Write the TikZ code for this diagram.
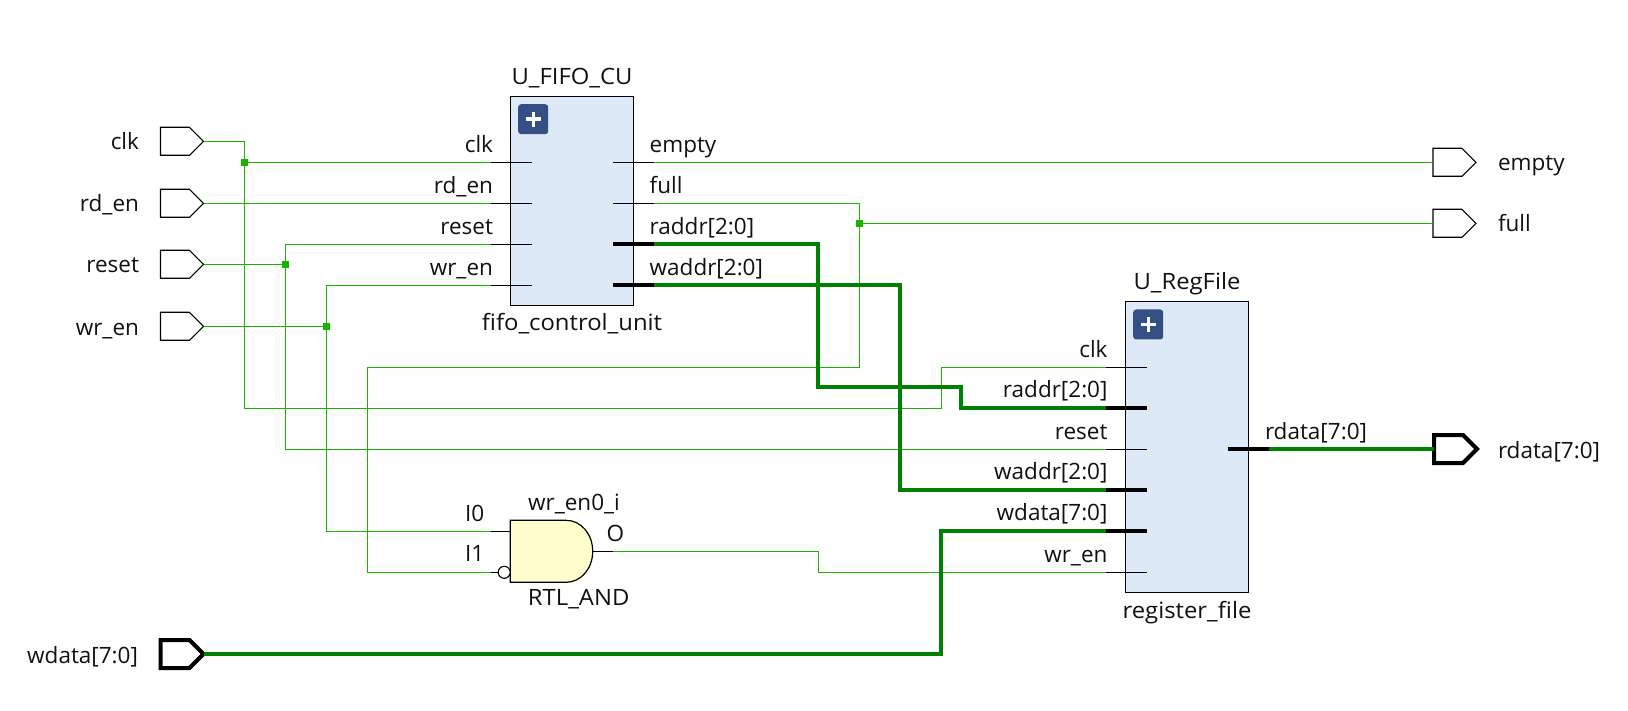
\documentclass[tikz,border=0pt]{standalone}
\usepackage{fontspec}
\setmainfont{Open Sans}
\newfontfamily\widelab[FakeStretch=1.06]{Open Sans}
\usetikzlibrary{calc}
\definecolor{wirethin}{HTML}{18B400}
\definecolor{wirebus}{HTML}{008000}
\definecolor{boxfill}{HTML}{DEE9F8}
\definecolor{plusblue}{HTML}{344E86}
\definecolor{gatefill}{HTML}{FFFDCC}
\definecolor{txt}{HTML}{111111}
\tikzset{
  x=1pt,y=-1pt,
  wire/.style={draw=wirethin,line width=1.3pt},
  bus/.style={draw=wirebus,line width=4pt},
  pinthin/.style={draw=black,line width=1.3pt},
  pinbus/.style={draw=black,line width=4pt},
  lab/.style={inner sep=0pt,outer sep=0pt,text=txt,font=\fontsize{22.5}{26}\selectfont},
  labl/.style={lab,anchor=base west},
  labr/.style={lab,anchor=base east},
  labc/.style={lab,anchor=base},
  labn/.style={lab,anchor=base,font=\widelab\fontsize{22.5}{26}\selectfont},
  block/.style={draw=black,line width=1.3pt,fill=boxfill,inner sep=0pt,outer sep=0pt,anchor=north west},
  plusbtn/.style={fill=plusblue,draw=none,rounded corners=3pt,inner sep=0pt,anchor=north west,minimum width=30pt,minimum height=30pt},
  junc/.style={fill=wirethin,draw=none,inner sep=0pt,minimum size=7pt},
  portthin/.style={draw=black,line width=1.1pt,fill=white},
  portbus/.style={draw=black,line width=4pt,fill=white,miter limit=4},
}
% \portshape{left x}{y}{style}{name of tip}{name of back}
\newcommand{\portshape}[5]{%
  \draw[#3] (#1,#2-14) -- (#1+29,#2-14) -- (#1+43,#2) -- (#1+29,#2+14) -- (#1,#2+14) -- cycle;
  \coordinate (#4) at (#1+43,#2);
  \coordinate (#5) at (#1,#2);
}
\newcommand{\plusmark}[1]{%
  \fill[white] ($(#1)+(-7.5,-1.7)$) rectangle ($(#1)+(7.5,1.7)$);
  \fill[white] ($(#1)+(-1.7,-7.5)$) rectangle ($(#1)+(1.7,7.5)$);
}
\begin{document}
\begin{tikzpicture}
\useasboundingbox (0,0) rectangle (1628,711);
\fill[white] (0,0) rectangle (1628,711);

% blocks
\node[block,minimum width=123.3pt,minimum height=209pt] (fifo) at (510.3,96.3) {};
\node[block,minimum width=123.4pt,minimum height=291pt] (regf) at (1125.4,301.3) {};
\node[plusbtn] (fifoplus) at (518,104) {};
\node[plusbtn] (regplus) at (1133,309.3) {};
\plusmark{fifoplus.center}
\plusmark{regplus.center}

% pin anchors
\foreach \n/\y in {clk/162.3,rd/203.3,rst/244.3,wr/285.3}{
  \coordinate (f\n) at (491,\y);
  \coordinate (f\n i) at (532,\y);
}
\foreach \n/\y in {empty/162.3,full/203.3,raddr/243.7,waddr/285}{
  \coordinate (f\n) at (654,\y);
  \coordinate (f\n i) at (613,\y);
}
\foreach \n/\y in {clk/367.3,raddr/407.7,rst/449.3,waddr/489.7,wdata/530.7,wr/572.3}{
  \coordinate (r\n) at (1105.5,\y);
  \coordinate (r\n i) at (1146.8,\y);
}
\coordinate (rrdata) at (1269,449);
\coordinate (rrdatai) at (1228,449);

% junctions
\coordinate (jclk) at (244.5,162.3);
\coordinate (jrst) at (285.5,264.3);
\coordinate (jwr) at (326.4,326.3);
\coordinate (jfull) at (859.4,223.3);

% gate
\draw[draw=black,line width=1.2pt,fill=gatefill] (510.3,520.3) -- (566,520.3)
  .. controls (581,520.3) and (592.7,534) .. (592.7,551.3)
  .. controls (592.7,568.6) and (581,582.3) .. (566,582.3) -- (510.3,582.3) -- cycle;
\coordinate (gi0) at (490.7,531.3);
\coordinate (gi0i) at (510.3,531.3);
\coordinate (gi1) at (490.7,572.3);
\coordinate (go) at (613,551.3);
\coordinate (goi) at (592.7,551.3);
\draw[pinthin] (gi0) -- (gi0i);
\draw[pinthin] (go) -- (goi);
\draw[pinthin] (gi1) -- ++(7.5,0);
\node[circle,draw=black,line width=1.1pt,fill=white,inner sep=0pt,minimum size=12pt] (gbub) at (504.2,572.3) {};

% ports
\portshape{160.5}{141.3}{portthin}{pclk}{pclkb}
\portshape{160.5}{203.3}{portthin}{prd}{prdb}
\portshape{160.5}{264.3}{portthin}{prst}{prstb}
\portshape{160.5}{326.3}{portthin}{pwr}{pwrb}
\portshape{160.5}{654}{portbus}{pwdata}{pwdatab}
\portshape{1433}{162.3}{portthin}{pempty}{pemptyb}
\portshape{1433}{223.3}{portthin}{pfull}{pfullb}
\portshape{1434}{449}{portbus}{prdata}{prdatab}

% thin wires
\coordinate (clkl) at (244.5,408.3);
\coordinate (clkr) at (941.4,408.3);
\draw[wire] (pclk) -| (clkl) -- (clkr) |- (rclk);
\draw[wire] (jclk) -- (fclk);
\draw[wire] (prd) -- (frd);
\draw[wire] (prst) -- (jrst);
\draw[wire] (frst) -| (jrst) |- (rrst);
\draw[wire] (pwr) -- (jwr);
\draw[wire] (fwr) -| (jwr) |- (gi0);
\draw[wire] (fempty) -- (pemptyb);
\coordinate (fullr) at (859.4,367.3);
\coordinate (fulll) at (367.6,367.3);
\draw[wire] (ffull) -| (fullr) -- (fulll) |- (gi1);
\draw[wire] (jfull) -- (pfullb);
\coordinate (oelbow) at (818.3,551.3);
\draw[wire] (go) -- (oelbow) |- (rwr);

% buses
\coordinate (ra1) at (818,243.7);
\coordinate (ra2) at (818,386.7);
\coordinate (ra3) at (961,386.7);
\coordinate (ra4) at (961,407.7);
\coordinate (wa1) at (900,285);
\coordinate (wa2) at (900,489.7);
\coordinate (wd1) at (941,654);
\coordinate (wd2) at (941,530.7);
\draw[bus] (fraddr) -- (ra1) -- (ra2) -- (ra3) -- (ra4) -- (rraddr);
\draw[bus] (fwaddr) -- (wa1) -- (wa2) -- (rwaddr);
\draw[bus] (pwdata) -- (wd1) -- (wd2) -- (rwdata);
\draw[bus] (rrdata) -- (prdatab);

% junction dots
\node[junc] (djclk) at (jclk) {};
\node[junc] (djrst) at (jrst) {};
\node[junc] (djwr) at (jwr) {};
\node[junc] (djfull) at (jfull) {};

% pin stubs
\foreach \n in {clk,rd,rst,wr}{\draw[pinthin] (f\n) -- (f\n i);}
\foreach \n in {empty,full}{\draw[pinthin] (f\n) -- (f\n i);}
\foreach \n in {raddr,waddr}{\draw[pinbus] (f\n) -- (f\n i);}
\foreach \n in {clk,rst,wr}{\draw[pinthin] (r\n) -- (r\n i);}
\foreach \n in {raddr,waddr,wdata}{\draw[pinbus] (r\n) -- (r\n i);}
\draw[pinbus] (rrdata) -- (rrdatai);

% external labels
\node[labr] (tclk) at (139,150) {clk};
\node[labr] (trd) at (139,212) {rd\_en};
\node[labr] (trst) at (139,273) {reset};
\node[labr] (twr) at (139,335) {wr\_en};
\node[labr] (twdata) at (138,663) {wdata[7:0]};
\node[labl] (tempty) at (1498,171) {empty};
\node[labl] (tfull) at (1498,232) {full};
\node[labl] (trdata) at (1498,458) {rdata[7:0]};

% fifo labels
\node[labn] (tfn) at (572,84.3) {U\_FIFO\_CU};
\node[labn] (tft) at (572,330.7) {fifo\_control\_unit};
\node[labr] (tf1) at (493,152.3) {clk};
\node[labr] (tf2) at (493,193.3) {rd\_en};
\node[labr] (tf3) at (493,234.3) {reset};
\node[labr] (tf4) at (493,275.3) {wr\_en};
\node[labl] (tf5) at (649.7,152.3) {empty};
\node[labl] (tf6) at (649.7,193.3) {full};
\node[labl] (tf7) at (649.7,234.3) {raddr[2:0]};
\node[labl] (tf8) at (649.7,275.3) {waddr[2:0]};

% regfile labels
\node[labn] (trn) at (1187,290) {U\_RegFile};
\node[labn] (trt) at (1187,618.3) {register\_file};
\node[labr] (tr1) at (1107.5,357.3) {clk};
\node[labr] (tr2) at (1107.5,397.7) {raddr[2:0]};
\node[labr] (tr3) at (1107.5,439.3) {reset};
\node[labr] (tr4) at (1107.5,479.7) {waddr[2:0]};
\node[labr] (tr5) at (1107.5,520.7) {wdata[7:0]};
\node[labr] (tr6) at (1107.5,562.3) {wr\_en};
\node[labl] (tr7) at (1265,439.3) {rdata[7:0]};

% gate labels
\node[labc] (tgn) at (574,510.7) {wr\_en0\_i};
\node[labn] (tgt) at (578.7,605) {RTL\_AND};
\node[labr] (tg0) at (484.3,521) {I0};
\node[labr] (tg1) at (484.3,561.7) {I1};
\node[labl] (tgo) at (606.7,541.3) {O};
\end{tikzpicture}
\end{document}
